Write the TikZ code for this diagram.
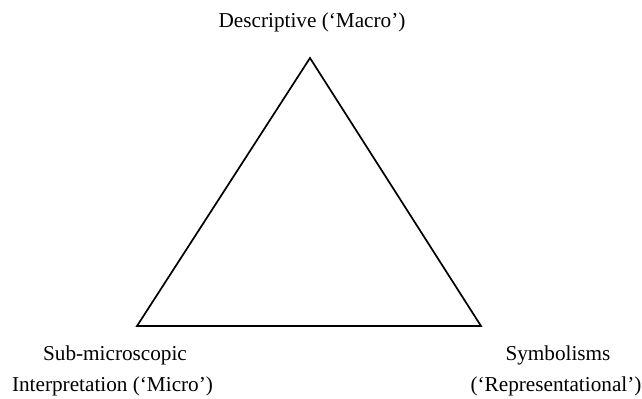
\documentclass[tikz,border=0pt]{standalone}
\usepackage{fontspec}
\setmainfont{Liberation Serif}
\begin{document}
\begin{tikzpicture}[x=1bp,y=-1bp,
  lbl/.style={inner sep=0pt,anchor=base,font=\fontsize{21.3}{31}\selectfont},
  edge/.style={line width=1.7bp,line join=miter}]
\useasboundingbox (0,0) rectangle (642,398);
\coordinate (top) at (310,58);
\coordinate (bl) at (137,326);
\coordinate (br) at (481,326);
\draw[edge] (top) -- (bl) -- (br) -- cycle;
\node[lbl] (macro) at (312,27) {Descriptive (‘Macro’)};
\node[lbl] (sub1) at (115,360) {Sub-microscopic};
\node[lbl] (sub2) at (112.5,391) {Interpretation (‘Micro’)};
\node[lbl] (sym1) at (558,360) {Symbolisms};
\node[lbl] (sym2) at (556,391) {(‘Representational’)};
\end{tikzpicture}
\end{document}
